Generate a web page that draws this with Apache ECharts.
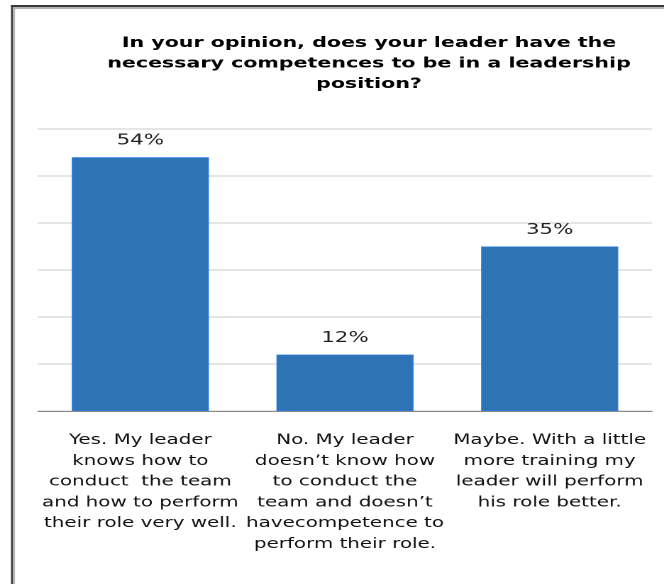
<!DOCTYPE html>
<html>
<head>
<meta charset="utf-8">
<script src="https://cdn.jsdelivr.net/npm/echarts@6/dist/echarts.min.js"></script>
<style>
  html, body { margin: 0; padding: 0; background: #fff; overflow: hidden; }
  /* The chart is laid out narrow and widened horizontally, giving the wide lettering */
  #chart {
    width: 468px;
    height: 584px;
    transform: scaleX(1.4188);
    transform-origin: 0 0;
  }
</style>
</head>
<body>
<div id="chart"></div>
<script>
// Survey answers and their share of respondents (%)
const categories = [
  'Yes. My leader\nknows how to\nconduct  the team\nand how to perform\ntheir role very well.',
  'No. My leader\ndoesn\u2019t know how\nto conduct the\nteam and doesn\u2019t\nhavecompetence to\nperform their role.',
  'Maybe. With a little\nmore training my\nleader will perform\nhis role better.'
];
const shares = [54, 12, 35];
const titleText = 'In your opinion, does your leader have the\nnecessary competences to be in a leadership\nposition?';

// horizontal stretch applied to the container (see CSS)
const SX = 1.4188;
const px = v => v / SX;

const chart = echarts.init(document.getElementById('chart'), null, { devicePixelRatio: 2 });
chart.setOption({
  animation: false,
  title: {
    text: titleText,
    left: px(369),
    top: 33,
    padding: 0,
    textAlign: 'center',
    textStyle: {
      fontFamily: 'DejaVu Sans',
      fontWeight: 'bold',
      fontSize: 14.5,
      lineHeight: 20.5,
      color: '#000'
    }
  },
  graphic: [
    // panel frame: dark outer edge with a grey inner edge
    { type: 'rect', shape: { x: px(11), y: 5, width: px(2), height: 700 }, style: { fill: '#3a3a3a' } },
    { type: 'rect', shape: { x: px(11), y: 5, width: 700, height: 2 }, style: { fill: '#3a3a3a' } },
    { type: 'rect', shape: { x: px(13), y: 7, width: px(2), height: 700 }, style: { fill: '#b4b4b4' } },
    { type: 'rect', shape: { x: px(13), y: 7, width: 700, height: 2 }, style: { fill: '#b4b4b4' } }
  ],
  grid: { left: px(38), right: px(12), top: 129, bottom: 173 },
  xAxis: {
    type: 'category',
    data: categories,
    axisLine: { lineStyle: { color: '#8a8a8a', width: 1 } },
    axisTick: { length: 5, lineStyle: { color: '#8a8a8a', width: 0.8 } },
    axisLabel: {
      interval: 0,
      margin: 19,
      fontFamily: 'DejaVu Sans',
      fontSize: 14,
      lineHeight: 20.8,
      color: '#111',
      align: 'center'
    }
  },
  yAxis: {
    type: 'value',
    min: 0,
    max: 60,
    interval: 10,
    axisLabel: { show: false },
    axisLine: { show: false },
    axisTick: { show: false },
    splitLine: { lineStyle: { color: '#dcdcdc', width: 1.5 } }
  },
  series: [{
    type: 'bar',
    data: shares,
    barCategoryGap: '33%',
    itemStyle: { color: '#2e74b5', borderColor: '#2a7ae0', borderWidth: 0.8 },
    label: {
      show: true,
      position: 'top',
      distance: 9,
      formatter: '{c}%',
      fontFamily: 'DejaVu Sans',
      fontSize: 15,
      color: '#222'
    }
  }]
});
</script>
</body>
</html>
